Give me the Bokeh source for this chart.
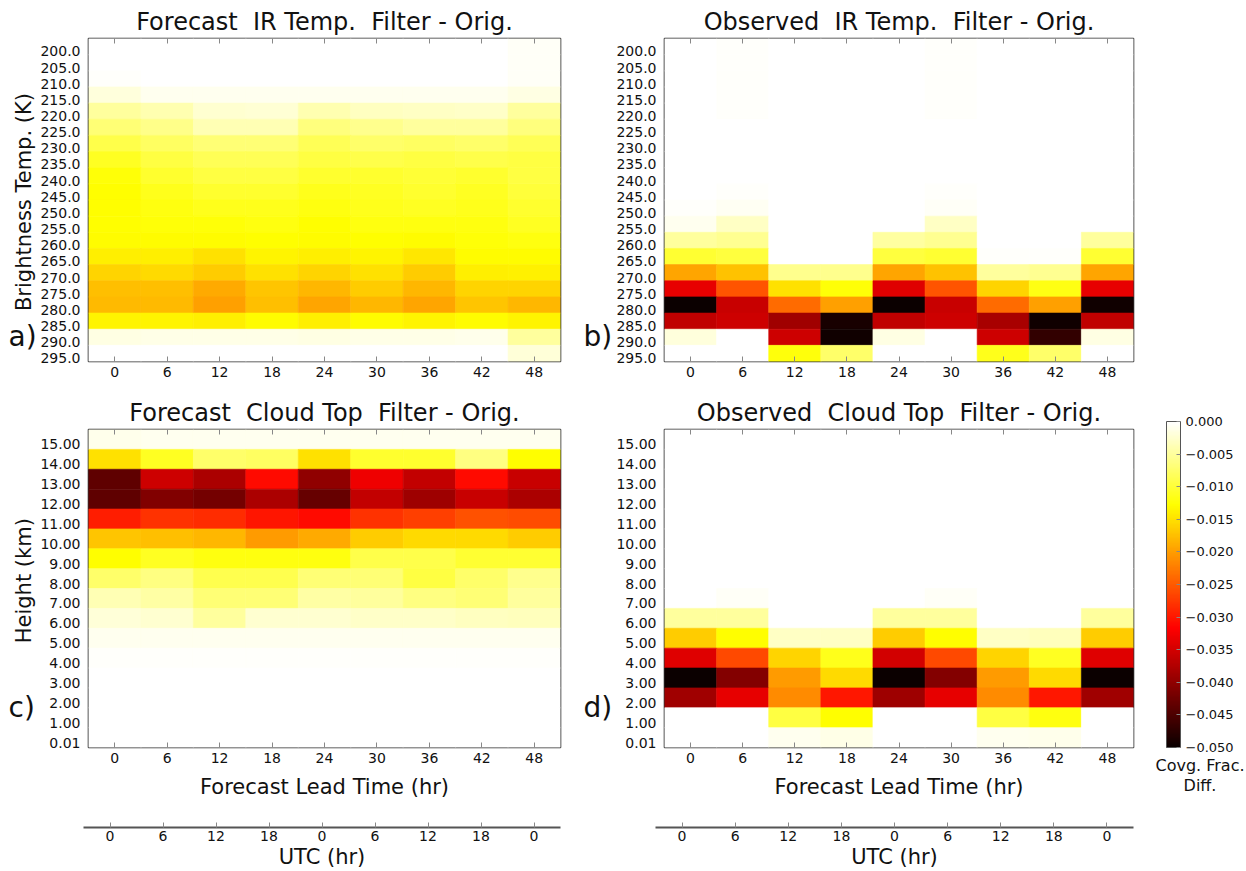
import math
from bokeh.plotting import figure
from bokeh.models import (Range1d, LinearAxis, FixedTicker, ColorBar, LinearColorMapper,
                          ColumnDataSource, Label, Title, CustomJSTickFormatter)
from bokeh.layouts import row, column
from bokeh.embed import file_html
from bokeh.resources import INLINE
from bokeh.transform import linear_cmap

# ---------------- data ----------------
lead_hours = [0, 6, 12, 18, 24, 30, 36, 42, 48]
utc_labels = ["0", "6", "12", "18", "0", "6", "12", "18", "0"]
ir_temp_labels = ["200.0", "205.0", "210.0", "215.0", "220.0", "225.0", "230.0", "235.0",
                  "240.0", "245.0", "250.0", "255.0", "260.0", "265.0", "270.0", "275.0",
                  "280.0", "285.0", "290.0", "295.0"]
height_labels = ["15.00", "14.00", "13.00", "12.00", "11.00", "10.00", "9.00", "8.00",
                 "7.00", "6.00", "5.00", "4.00", "3.00", "2.00", "1.00", "0.01"]
cbar_ticks = [-0.050, -0.045, -0.040, -0.035, -0.030, -0.025, -0.020, -0.015, -0.010, -0.005, 0.0]

# rows = brightness temperature bins (top to bottom), columns = lead hours
forecast_ir = [
    [0, 0, 0, 0, 0, 0, 0, 0, -0.0004],
    [0, 0, 0, 0, 0, 0, 0, 0, -0.0004],
    [-0.0002, 0, 0, 0, 0, 0, 0, 0, -0.0005],
    [-0.0019, -0.0009, -0.0008, -0.0008, -0.0009, -0.0008, -0.0008, -0.0008, -0.0015],
    [-0.0050, -0.0040, -0.0025, -0.0023, -0.0040, -0.0032, -0.0030, -0.0028, -0.0050],
    [-0.0070, -0.0060, -0.0038, -0.0038, -0.0065, -0.0057, -0.0050, -0.0050, -0.0065],
    [-0.0090, -0.0080, -0.0070, -0.0070, -0.0085, -0.0075, -0.0080, -0.0075, -0.0085],
    [-0.0110, -0.0095, -0.0085, -0.0085, -0.0095, -0.0090, -0.0095, -0.0090, -0.0095],
    [-0.0125, -0.0105, -0.0095, -0.0095, -0.0105, -0.0105, -0.0100, -0.0105, -0.0095],
    [-0.0128, -0.0115, -0.0105, -0.0105, -0.0115, -0.0110, -0.0105, -0.0110, -0.0098],
    [-0.0128, -0.0120, -0.0115, -0.0115, -0.0120, -0.0115, -0.0110, -0.0115, -0.0105],
    [-0.0128, -0.0125, -0.0125, -0.0120, -0.0128, -0.0120, -0.0120, -0.0120, -0.0110],
    [-0.0130, -0.0130, -0.0130, -0.0128, -0.0130, -0.0128, -0.0130, -0.0125, -0.0120],
    [-0.0140, -0.0140, -0.0150, -0.0135, -0.0140, -0.0135, -0.0145, -0.0130, -0.0130],
    [-0.0160, -0.0155, -0.0165, -0.0150, -0.0160, -0.0150, -0.0165, -0.0140, -0.0138],
    [-0.0175, -0.0175, -0.0190, -0.0170, -0.0180, -0.0165, -0.0180, -0.0160, -0.0160],
    [-0.0178, -0.0178, -0.0198, -0.0175, -0.0195, -0.0180, -0.0195, -0.0170, -0.0180],
    [-0.0135, -0.0135, -0.0140, -0.0130, -0.0140, -0.0130, -0.0135, -0.0130, -0.0135],
    [-0.0015, -0.0012, -0.0012, -0.0012, -0.0015, -0.0012, -0.0012, -0.0010, -0.0050],
    [0, 0, 0, 0, 0, 0, 0, 0, -0.0020],
]

observed_ir = [
    [0, -0.0003, 0, 0, 0, -0.0003, 0, 0, 0],
    [0, -0.0003, 0, 0, 0, -0.0003, 0, 0, 0],
    [0, -0.0003, 0, 0, 0, -0.0003, 0, 0, 0],
    [0, -0.0003, 0, 0, 0, -0.0003, 0, 0, 0],
    [0, -0.0003, 0, 0, 0, -0.0003, 0, 0, 0],
    [0, 0, 0, 0, 0, 0, 0, 0, 0],
    [0, 0, 0, 0, 0, 0, 0, 0, 0],
    [0, 0, 0, 0, 0, 0, 0, 0, 0],
    [0, 0, 0, 0, 0, 0, 0, 0, 0],
    [0, -0.0002, 0, 0, 0, -0.0002, 0, 0, 0],
    [-0.0002, -0.0006, 0, 0, 0, -0.0004, 0, 0, 0],
    [-0.0008, -0.0030, 0, 0, 0, -0.0030, 0, 0, 0],
    [-0.0050, -0.0055, 0, 0, -0.0048, -0.0055, 0, 0, -0.0050],
    [-0.0102, -0.0097, 0, 0, -0.0097, -0.0102, -0.0003, -0.0003, -0.0102],
    [-0.0195, -0.0173, -0.0057, -0.0057, -0.0195, -0.0173, -0.0050, -0.0055, -0.0195],
    [-0.0334, -0.0255, -0.0150, -0.0125, -0.0340, -0.0255, -0.0160, -0.0118, -0.0334],
    [-0.0500, -0.0358, -0.0237, -0.0198, -0.0500, -0.0358, -0.0237, -0.0198, -0.0495],
    [-0.0365, -0.0354, -0.0387, -0.0490, -0.0365, -0.0354, -0.0382, -0.0495, -0.0365],
    [-0.0019, 0, -0.0354, -0.0495, -0.0015, 0, -0.0354, -0.0470, -0.0015],
    [0, 0, -0.0122, -0.0076, 0, 0, -0.0115, -0.0076, 0],
]

# rows = cloud-top height bins (top to bottom), columns = lead hours
forecast_ct = [
    [-0.0010, -0.0009, -0.0009, -0.0009, -0.0009, -0.0009, -0.0009, -0.0009, -0.0009],
    [-0.0150, -0.0110, -0.0075, -0.0080, -0.0150, -0.0105, -0.0105, -0.0064, -0.0127],
    [-0.0436, -0.0354, -0.0380, -0.0310, -0.0400, -0.0330, -0.0363, -0.0310, -0.0358],
    [-0.0436, -0.0412, -0.0420, -0.0380, -0.0430, -0.0363, -0.0390, -0.0358, -0.0380],
    [-0.0295, -0.0280, -0.0285, -0.0302, -0.0310, -0.0280, -0.0270, -0.0257, -0.0260],
    [-0.0170, -0.0175, -0.0180, -0.0203, -0.0190, -0.0165, -0.0156, -0.0156, -0.0165],
    [-0.0128, -0.0110, -0.0120, -0.0120, -0.0120, -0.0090, -0.0090, -0.0102, -0.0102],
    [-0.0076, -0.0063, -0.0089, -0.0089, -0.0070, -0.0070, -0.0095, -0.0076, -0.0057],
    [-0.0038, -0.0045, -0.0070, -0.0070, -0.0045, -0.0050, -0.0063, -0.0070, -0.0050],
    [-0.0020, -0.0025, -0.0050, -0.0025, -0.0025, -0.0028, -0.0028, -0.0032, -0.0035],
    [-0.0009, -0.0009, -0.0009, -0.0009, -0.0009, -0.0009, -0.0009, -0.0009, -0.0009],
    [-0.0002, -0.0003, -0.0003, -0.0003, -0.0002, -0.0002, -0.0002, -0.0002, -0.0002],
    [0, 0, 0, 0, 0, 0, 0, 0, 0],
    [0, 0, 0, 0, 0, 0, 0, 0, 0],
    [0, 0, 0, 0, 0, 0, 0, 0, 0],
    [0, 0, 0, 0, 0, 0, 0, 0, 0],
]

observed_ct = [
    [0, 0, 0, 0, 0, 0, 0, 0, 0],
    [0, 0, 0, 0, 0, 0, 0, 0, 0],
    [0, 0, 0, 0, 0, 0, 0, 0, 0],
    [0, 0, 0, 0, 0, 0, 0, 0, 0],
    [0, 0, 0, 0, 0, 0, 0, 0, 0],
    [0, 0, 0, 0, 0, 0, 0, 0, 0],
    [0, 0, 0, 0, 0, 0, 0, 0, 0],
    [0, 0, 0, 0, 0, 0, 0, 0, 0],
    [0, -0.0004, 0, 0, 0, -0.0004, 0, 0, 0],
    [-0.0050, -0.0050, 0, 0, -0.0050, -0.0050, 0, 0, -0.0050],
    [-0.0165, -0.0127, -0.0030, -0.0030, -0.0165, -0.0127, -0.0030, -0.0035, -0.0165],
    [-0.0340, -0.0263, -0.0160, -0.0115, -0.0350, -0.0263, -0.0160, -0.0110, -0.0340],
    [-0.0500, -0.0410, -0.0203, -0.0156, -0.0500, -0.0410, -0.0203, -0.0156, -0.0500],
    [-0.0387, -0.0334, -0.0213, -0.0300, -0.0390, -0.0334, -0.0213, -0.0300, -0.0387],
    [0, 0, -0.0095, -0.0127, 0, 0, -0.0095, -0.0120, 0],
    [0, 0, -0.0009, -0.0013, 0, 0, -0.0009, -0.0011, 0],
]

# ---------------- colour map (matplotlib "hot") ----------------
def hot_palette(n=256):
    pal = []
    for k in range(n):
        t = k / (n - 1)
        r = min(1.0, 0.0416 + t * (1 - 0.0416) / 0.365079)
        g = 0.0 if t < 0.365079 else min(1.0, (t - 0.365079) / (0.746032 - 0.365079))
        b = 0.0 if t < 0.746032 else min(1.0, (t - 0.746032) / (1 - 0.746032))
        pal.append("#%02x%02x%02x" % (int(round(r * 255)), int(round(g * 255)), int(round(b * 255))))
    return pal

PALETTE = hot_palette()
LOW, HIGH = -0.05, 0.0
FONT = "DejaVu Sans"
TXT = "#111111"
NB = "\u00a0"


def make_panel(vals, ylabels, title, fig_w, fig_h, left, top, bottom, shift, xlabel=None):
    n = len(ylabels)
    xs, ys, vs = [], [], []
    for i, rv in enumerate(vals):
        for j, v in enumerate(rv):
            xs.append(lead_hours[j])
            ys.append(i - shift)
            vs.append(v)
    src = ColumnDataSource(dict(x=xs, y=ys, v=vs))
    p = figure(width=fig_w, height=fig_h,
               x_range=Range1d(-3, 51), y_range=Range1d(n - 0.5 - shift, -0.5 - shift),
               min_border_left=left, min_border_right=20, min_border_top=top,
               min_border_bottom=bottom, toolbar_location=None, output_backend="svg")
    cmap = linear_cmap("v", PALETTE, low=LOW, high=HIGH)
    p.rect(x="x", y="y", width=6, height=1, source=src,
           fill_color=cmap, line_color=cmap, line_width=0.6)
    p.xgrid.visible = False
    p.ygrid.visible = False
    p.outline_line_color = "#333333"
    p.outline_line_width = 1.6

    p.title.text = title
    p.title.align = "center"
    p.title.text_font = FONT
    p.title.text_font_size = "24px"
    p.title.text_font_style = "normal"
    p.title.text_color = TXT
    p.title.standoff = 6

    xa = p.xaxis[0]
    xa.ticker = FixedTicker(ticks=lead_hours)
    xa.axis_line_color = None
    xa.major_tick_in = 5
    xa.major_tick_out = 0
    xa.major_tick_line_color = "#888888"
    xa.minor_tick_line_color = None
    xa.major_label_standoff = 5
    xa.major_label_text_font = FONT
    xa.major_label_text_font_size = "14px"
    xa.major_label_text_color = TXT
    if xlabel:
        xa.axis_label = xlabel
        xa.axis_label_text_font = FONT
        xa.axis_label_text_font_size = "21px"
        xa.axis_label_text_font_style = "normal"
        xa.axis_label_text_color = TXT
        xa.axis_label_standoff = 9

    ya = p.yaxis[0]
    ya.ticker = FixedTicker(ticks=list(range(n)))
    ya.major_label_overrides = {i: lab for i, lab in enumerate(ylabels)}
    ya.axis_line_color = None
    ya.major_tick_line_color = None
    ya.minor_tick_line_color = None
    ya.major_label_standoff = 2
    ya.major_label_text_font = FONT
    ya.major_label_text_font_size = "14px"
    ya.major_label_text_color = TXT

    ta = LinearAxis(ticker=FixedTicker(ticks=lead_hours), axis_line_color=None,
                    major_tick_in=5, major_tick_out=0, major_tick_line_color="#888888",
                    minor_tick_line_color=None, major_label_text_font_size="1px",
                    major_label_text_color=None, major_label_standoff=0)
    p.add_layout(ta, "above")
    return p


def make_side(w, h, letter, letter_x, letter_y, ylabel=None, ylabel_y=None):
    """Narrow strip left of a panel holding its y-axis title and its panel letter."""
    s = figure(width=w, height=h, x_range=Range1d(0, w), y_range=Range1d(h, 0),
               min_border_left=0, min_border_right=0, min_border_top=0, min_border_bottom=0,
               toolbar_location=None, output_backend="svg", title=None,
               x_axis_location=None, y_axis_location=None)
    s.outline_line_color = None
    s.xgrid.visible = False
    s.ygrid.visible = False
    s.add_layout(Label(x=letter_x, y=letter_y, text=letter, text_font=FONT,
                       text_font_size="28px", text_color=TXT,
                       text_baseline="alphabetic", text_align="left"))
    if ylabel:
        s.add_layout(Label(x=23, y=ylabel_y, text=ylabel, angle=math.pi / 2,
                           text_font=FONT, text_font_size="21px", text_color=TXT,
                           text_baseline="middle", text_align="center"))
    return s


TOP_H = 393
BOT_H = 408

la = make_side(37, TOP_H, "a)", 8, 363, "Brightness Temp. (K)", 199)
pa = make_panel(forecast_ir, ir_temp_labels, f"Forecast{NB} IR Temp.{NB} Filter - Orig.",
                543, TOP_H, 46, 38, 32, 0.3)
lb = make_side(33, TOP_H, "b)", 3, 363)
pb = make_panel(observed_ir, ir_temp_labels, f"Observed{NB} IR Temp.{NB} Filter - Orig.",
                540, TOP_H, 42, 38, 32, 0.3)
lc = make_side(37, BOT_H, "c)", 8, 357, "Height (km)", 194)
pc = make_panel(forecast_ct, height_labels, f"Forecast{NB} Cloud Top{NB} Filter - Orig.",
                543, BOT_H, 46, 33, 53, 0.25, xlabel="Forecast Lead Time (hr)")
ld = make_side(33, BOT_H, "d)", 3, 357)
pd = make_panel(observed_ct, height_labels, f"Observed{NB} Cloud Top{NB} Filter - Orig.",
                540, BOT_H, 42, 33, 53, 0.25, xlabel="Forecast Lead Time (hr)")

# ---------------- colour bar ----------------
cbf = figure(width=93, height=BOT_H, x_range=Range1d(0, 1), y_range=Range1d(0, 1),
             min_border_left=0, min_border_right=0, min_border_top=29, min_border_bottom=53,
             toolbar_location=None, output_backend="svg", title=None,
             x_axis_location=None, y_axis_location=None)
cbf.outline_line_color = None
cbf.xgrid.visible = False
cbf.ygrid.visible = False
mapper = LinearColorMapper(palette=PALETTE, low=LOW, high=HIGH)
cb = ColorBar(color_mapper=mapper, ticker=FixedTicker(ticks=cbar_ticks),
              formatter=CustomJSTickFormatter(
                  code="return (tick < -1e-9 ? '\u2212' : '') + Math.abs(tick).toFixed(3);"),
              width=14, height=326, location=(13, 0), padding=0, margin=0,
              label_standoff=5, major_label_text_font=FONT, major_label_text_font_size="13px",
              major_label_text_color=TXT, major_tick_in=4, major_tick_out=0,
              major_tick_line_color="#888888", minor_tick_line_color=None,
              bar_line_color="#555555", bar_line_width=1, border_line_color=None,
              background_fill_color=None)
cbf.add_layout(cb, "center")
cbf.add_layout(Title(text="Covg. Frac.", align="center", standoff=12,
                     text_font=FONT, text_font_size="16px", text_font_style="normal",
                     text_color=TXT), "below")
cbf.add_layout(Title(text="Diff.", align="center", standoff=-14,
                     text_font=FONT, text_font_size="16px", text_font_style="normal",
                     text_color=TXT), "below")


# ---------------- UTC axes ----------------
def make_utc(src_fig, w, left):
    u = figure(width=w, height=70, x_range=src_fig.x_range, y_range=Range1d(0, 1),
               min_border_left=left, min_border_right=20, min_border_top=23,
               min_border_bottom=41, toolbar_location=None, output_backend="svg",
               y_axis_location=None)
    u.outline_line_color = None
    u.xgrid.visible = False
    u.ygrid.visible = False
    ax = u.xaxis[0]
    ax.ticker = FixedTicker(ticks=lead_hours)
    ax.major_label_overrides = {h: lab for h, lab in zip(lead_hours, utc_labels)}
    ax.axis_line_color = "#555555"
    ax.axis_line_width = 2
    ax.major_tick_in = 5
    ax.major_tick_out = 0
    ax.major_tick_line_color = "#888888"
    ax.minor_tick_line_color = None
    ax.major_label_standoff = 3
    ax.major_label_text_font = FONT
    ax.major_label_text_font_size = "14px"
    ax.major_label_text_color = TXT
    ax.axis_label = "UTC (hr)"
    ax.axis_label_text_font = FONT
    ax.axis_label_text_font_size = "21px"
    ax.axis_label_text_font_style = "normal"
    ax.axis_label_text_color = TXT
    ax.axis_label_standoff = 1
    return u


uc = make_utc(pc, 580, 83)
ud = make_utc(pd, 573, 75)

layout = column(row(la, pa, lb, pb), row(lc, pc, ld, pd, cbf), row(uc, ud))

open("out.html", "w").write(file_html(layout, INLINE))
